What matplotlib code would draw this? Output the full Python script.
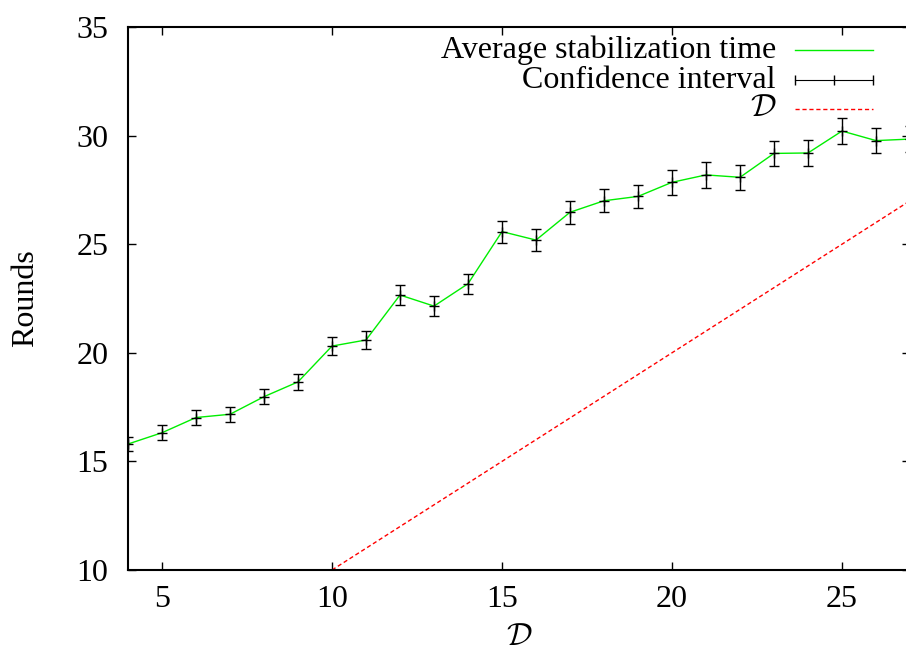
import matplotlib
matplotlib.use("Agg")
import matplotlib.pyplot as plt
import numpy as np

plt.rcParams['font.family'] = ['Liberation Serif', 'DejaVu Serif']
plt.rcParams['mathtext.fontset'] = 'cm'

D = [4, 5, 6, 7, 8, 9, 10, 11, 12, 13, 14, 15, 16, 17, 18, 19, 20, 21, 22, 23, 24, 25, 26, 27]
avg = [15.80, 16.32, 17.02, 17.17, 17.98, 18.66, 20.31, 20.59, 22.66, 22.15, 23.18,
       25.58, 25.19, 26.47, 27.00, 27.20, 27.85, 28.19, 28.08, 29.18, 29.20, 30.21, 29.77, 29.84]
err = [0.33, 0.34, 0.33, 0.34, 0.35, 0.38, 0.41, 0.41, 0.45, 0.45, 0.46,
       0.51, 0.50, 0.54, 0.53, 0.54, 0.58, 0.58, 0.57, 0.58, 0.59, 0.60, 0.59, 0.60]
diag_x = [10, 27]
diag_y = [10, 27]

xticks = [5, 10, 15, 20, 25]
yticks = [10, 15, 20, 25, 30, 35]

W, H = 906, 655
fig = plt.figure(figsize=(W / 100, H / 100), dpi=100)
left, right, top, bottom = 128, 910, 27, 570
ax = fig.add_axes([left / W, 1 - bottom / H, (right - left) / W, (bottom - top) / H])

green = '#00ee00'
red = '#ff0000'
FS = 23

ax.plot(D, avg, color=green, lw=1.0, zorder=3)
ax.errorbar(D, avg, yerr=err, fmt='none', ecolor='black', elinewidth=1.0,
            capsize=3.5, capthick=1.0, zorder=4)
ax.plot(D, avg, linestyle='none', marker='+', color='black', ms=7, mew=1.0, zorder=5)
ax.plot(diag_x, diag_y, color=red, lw=1.0, dashes=(3, 2), zorder=2)

ax.set_xlim(4, 27)
ax.set_ylim(10, 35)
ax.set_xticks(xticks)
ax.set_yticks(yticks)
ax.tick_params(direction='in', length=6, width=1.0, top=True, right=True,
               labelsize=FS)
ax.tick_params(axis='y', pad=14)
ax.tick_params(axis='x', pad=11)
for s in ax.spines.values():
    s.set_linewidth(1.5)

ax.set_ylabel('Rounds', fontsize=FS, labelpad=26)
ax.set_xlabel(r'$\mathcal{D}$', fontsize=FS, labelpad=6)

# gnuplot-style legend (text right-aligned, sample on the right)
tA = ax.transAxes
def fx(px):
    return (px - left) / (right - left)
def fy(py):
    return (bottom - py) / (bottom - top)

labels = ['Average stabilization time', 'Confidence interval', r'$\mathcal{D}$']
rows = [50, 80, 109]
tx = fx(776)
x0, x1 = fx(795), fx(873)
for lab, r in zip(labels, rows):
    ax.text(tx, fy(r), lab, transform=tA, ha='right', va='center', fontsize=FS)
ax.plot([x0, x1], [fy(rows[0])] * 2, transform=tA, color=green, lw=1.0, clip_on=False)
ax.plot([x0, x1], [fy(rows[1])] * 2, transform=tA, color='black', lw=0.8, clip_on=False)
ax.plot([x0, (x0 + x1) / 2, x1], [fy(rows[1])] * 3, transform=tA, linestyle='none',
        marker='|', ms=7, mew=1.0, color='black', clip_on=False)
ax.plot([x0, x1], [fy(rows[2])] * 2, transform=tA, color=red, lw=1.0, dashes=(3, 2),
        clip_on=False)

fig.savefig('out.png', dpi=100)
